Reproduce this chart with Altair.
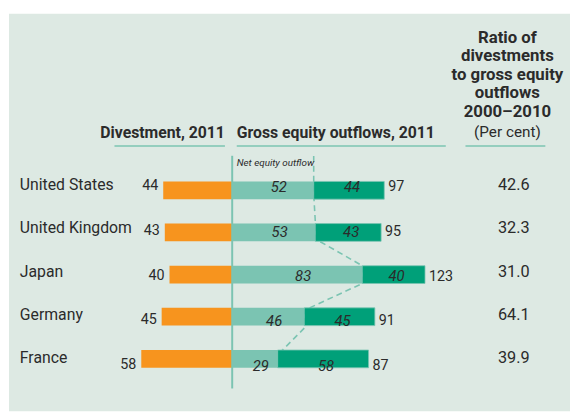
import altair as alt
import pandas as pd

countries = ["United States", "United Kingdom", "Japan", "Germany", "France"]
divestment = [44, 43, 40, 45, 58]
net_outflow = [52, 53, 83, 46, 29]
gross_outflow = [97, 95, 123, 91, 87]
ratio = ["42.6", "32.3", "31.0", "64.1", "39.9"]

ORANGE = "#f7941e"
LIGHT = "#7bc4b2"
DARK = "#00a079"
BG = "#dde9e3"
TXT = "#2b2b2b"
FONT = "Roboto"

df = pd.DataFrame({
    "row": list(range(len(countries))),
    "country": countries,
    "divestment": divestment,
    "net": net_outflow,
    "gross": gross_outflow,
    "ratio": ratio,
})
df["neg_div"] = -df["divestment"]
df["net_mid"] = df["net"] / 2
df["div_mid"] = (df["net"] + df["gross"]) / 2

# connector (dashed) through net-outflow boundaries, corner to corner
half = 0.199
pts = [{"x": net_outflow[0], "y": -0.66, "o": 0}]
o = 1
for i, v in enumerate(net_outflow):
    pts.append({"x": v, "y": i - half, "o": o}); o += 1
    pts.append({"x": v, "y": i + half, "o": o}); o += 1
pts = pts[:-1]
conn = pd.DataFrame(pts)

xs = alt.Scale(domain=[-142.4, 215.5], nice=False, zero=False)
ys = alt.Scale(domain=[0, 4], range=[174, 355], nice=False, zero=False)
ys_lab = alt.Scale(domain=[0, 4], range=[174, 349], nice=False, zero=False)

X = lambda f: alt.X(f, scale=xs, axis=None)
Y = alt.Y("row:Q", scale=ys, axis=None)
YL = alt.Y("row:Q", scale=ys_lab, axis=None)

base = alt.Chart(df)

connector = alt.Chart(conn).mark_line(
    color=LIGHT, strokeDash=[6, 4], strokeWidth=1.6
).encode(
    x=X("x:Q"), y=alt.Y("y:Q", scale=ys, axis=None), order="o:Q"
)

div_bars = base.mark_bar(size=18, color=ORANGE).encode(
    x=X("neg_div:Q"), x2=alt.datum(0), y=Y)
net_bars = base.mark_bar(size=18, color=LIGHT).encode(
    x=X("net:Q"), x2=alt.datum(0), y=Y)
dark_bars = base.mark_bar(size=18, color=DARK, stroke=LIGHT, strokeWidth=0.8).encode(
    x=X("net:Q"), x2="gross:Q", y=Y)

zero_line = alt.Chart(pd.DataFrame({"z": [0]})).mark_rule(color=LIGHT, strokeWidth=2).encode(
    x=X("z:Q"), y=alt.value(144), y2=alt.value(380))

div_lab = base.mark_text(align="right", dx=-5, dy=1, fontSize=14.5, font=FONT, color=TXT).encode(
    x=X("neg_div:Q"), y=Y, text="divestment:Q")
net_lab = base.mark_text(align="center", dx=6, dy=2, fontSize=15, font=FONT, fontStyle="italic", color=TXT).encode(
    x=X("net_mid:Q"), y=Y, text="net:Q")
dark_lab = base.mark_text(align="center", dx=3, dy=2, fontSize=15, font=FONT, fontStyle="italic", color=TXT).encode(
    x=X("div_mid:Q"), y=Y, text="divestment:Q")
tot_lab = base.mark_text(align="left", dx=4, dy=2, fontSize=14.5, font=FONT, color=TXT).encode(
    x=X("gross:Q"), y=Y, text="gross:Q")

country_lab = base.mark_text(align="left", fontSize=16, font=FONT, color=TXT).encode(
    x=alt.value(11), y=YL, text="country:N")
ratio_lab = base.mark_text(align="center", fontSize=16.5, font=FONT, color=TXT).encode(
    x=alt.value(512), y=YL, text="ratio:N")

one = pd.DataFrame({"a": [0]})
h_div = alt.Chart(one).mark_text(align="right", baseline="middle", fontSize=16, fontWeight="bold", font=FONT, color=TXT).encode(
    x=alt.value(219), y=alt.value(120.5), text=alt.value("Divestment, 2011"))
h_gross = alt.Chart(one).mark_text(align="left", baseline="middle", fontSize=16, fontWeight="bold", font=FONT, color=TXT).encode(
    x=alt.value(231), y=alt.value(120.5), text=alt.value("Gross equity outflows, 2011"))
h_ratio = alt.Chart(one).mark_text(align="center", baseline="alphabetic", fontSize=17, fontWeight="bold", font=FONT, color=TXT,
                                   lineBreak="\n", lineHeight=18.8).encode(
    x=alt.value(505.5), y=alt.value(29.5), text=alt.value("Ratio of\ndivestments\nto gross equity\noutflows\n2000\u20132010"))
h_pct = alt.Chart(one).mark_text(align="center", baseline="middle", fontSize=15.5, font=FONT, color=TXT).encode(
    x=alt.value(505.5), y=alt.value(120), text=alt.value("(Per cent)"))
h_net = alt.Chart(one).mark_text(align="left", baseline="middle", fontSize=10, fontStyle="italic", font=FONT, color=TXT).encode(
    x=alt.value(231), y=alt.value(151), text=alt.value("Net equity outflow"))

ul1 = alt.Chart(one).mark_rule(color=LIGHT, strokeWidth=1.6).encode(
    x=alt.value(107), x2=alt.value(219), y=alt.value(134))
ul2 = alt.Chart(one).mark_rule(color=LIGHT, strokeWidth=1.6).encode(
    x=alt.value(231), x2=alt.value(443), y=alt.value(134))
ul3 = alt.Chart(one).mark_rule(color=LIGHT, strokeWidth=1.6).encode(
    x=alt.value(463), x2=alt.value(544), y=alt.value(134))

chart = alt.layer(
    connector, div_bars, net_bars, dark_bars, zero_line,
    div_lab, net_lab, dark_lab, tot_lab, country_lab, ratio_lab,
    h_div, h_gross, h_ratio, h_pct, h_net, ul1, ul2, ul3,
).resolve_scale(y="independent").properties(
    width=569, height=403,
    padding={"left": 1, "top": 3, "right": 0, "bottom": 0},
    autosize=alt.AutoSizeParams(type="none"),
    background="white",
).configure_view(fill=BG, stroke=None)

chart.save("out.html", embed_options={"renderer": "svg", "actions": False})
